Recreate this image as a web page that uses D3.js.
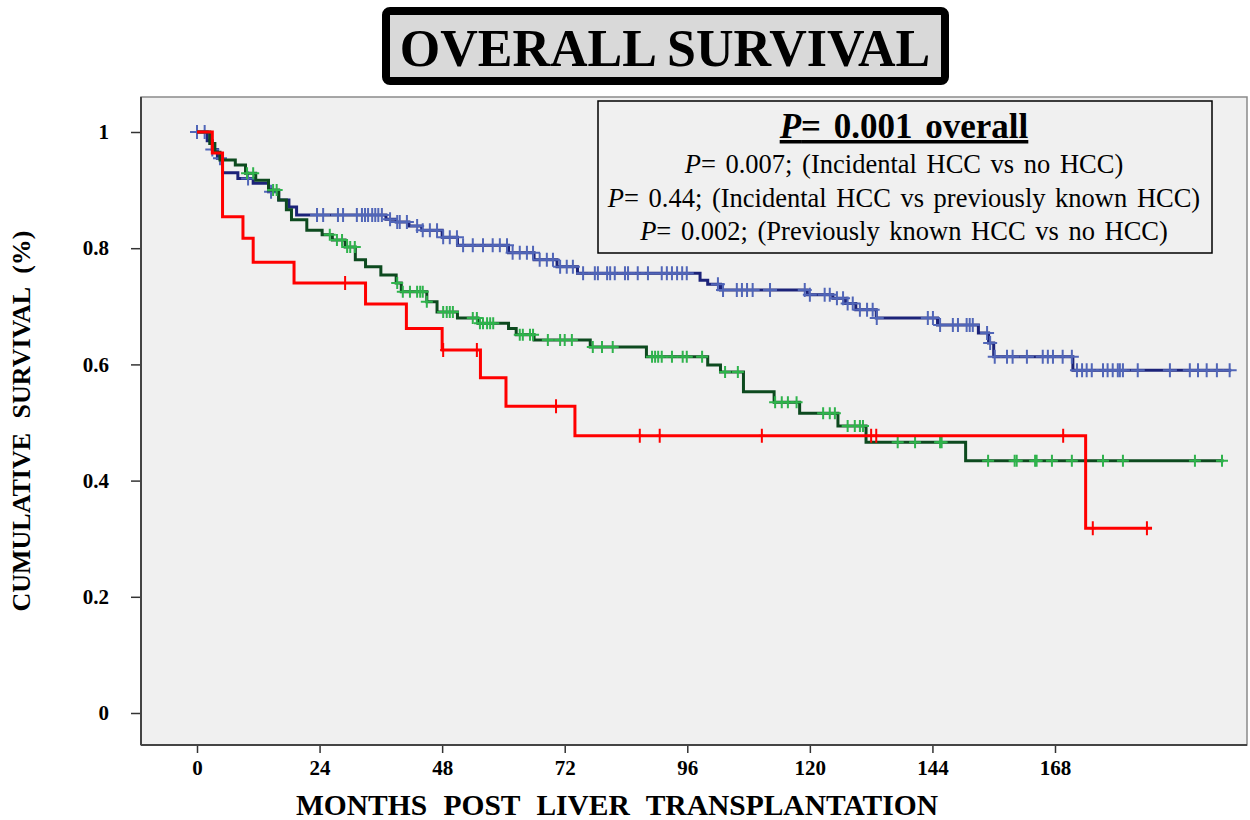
<!DOCTYPE html>
<html>
<head>
<meta charset="utf-8">
<script src="https://cdn.jsdelivr.net/npm/d3@7"></script>
<style>
  body { margin: 0; background: #fff; }
  text { font-family: "Liberation Serif", "Times New Roman", serif; }
</style>
</head>
<body>
<svg id="chart" width="1250" height="820"></svg>
<script>
// DATA
// steps: [months, cumulative survival]
var noHccSteps = [[0,1],[2,0.985],[3,0.97],[4,0.955],[5,0.93],[8,0.92],[11,0.912],[14,0.897],[16,0.883],[18,0.871],[19.5,0.857],[37,0.85],[39,0.845],[41.5,0.838],[44,0.831],[48,0.819],[51,0.805],[61,0.792],[66,0.78],[70.5,0.768],[74.5,0.757],[98.5,0.745],[100,0.738],[102.5,0.728],[119.5,0.72],[124.5,0.714],[127,0.705],[129,0.694],[133,0.68],[145,0.668],[153,0.654],[155,0.637],[156,0.613],[171.5,0.59],[202.5,0.59]];
var incidentalSteps = [[0,1],[2.5,0.98],[3.5,0.965],[4.5,0.952],[7.5,0.943],[9.5,0.929],[11.5,0.917],[14,0.9],[16,0.883],[17.5,0.866],[18.5,0.849],[21.5,0.831],[24.5,0.823],[26.5,0.814],[29,0.802],[31,0.78],[33,0.768],[36,0.754],[39,0.74],[40,0.725],[45,0.708],[47,0.69],[51,0.68],[55,0.671],[61,0.662],[62.5,0.651],[66,0.642],[77,0.63],[88,0.613],[100,0.599],[102.5,0.587],[107,0.553],[113,0.535],[118,0.516],[125.5,0.494],[131,0.466],[150.5,0.434],[201,0.434]];
var knownSteps = [[0,1],[3,0.964],[5,0.854],[9,0.817],[11,0.776],[19,0.74],[33,0.704],[41,0.662],[48,0.625],[55.5,0.577],[60.5,0.528],[74,0.477],[174,0.318],[187,0.318]];

// censored times (months)
var noHccCensor = [0,1.5,3,4.5,10,14.5,23.5,24.7,27.6,28.6,31.3,32.3,32.9,33.5,34.3,34.9,35.5,36.2,37.8,39.2,39.7,41.1,43.1,44.2,45.6,47.0,48.2,49.5,50.9,52.1,54.0,56.0,57.9,59.3,60.7,61.8,63.2,64.6,65.8,67.1,68.5,69.7,71.1,72.4,73.6,75.6,77.9,78.5,80.3,80.9,81.8,83.8,84.4,86.3,88.3,91.0,92.0,93.0,94.0,95.0,95.9,102.0,103.0,105.7,106.7,107.7,108.8,112.2,119.0,120.0,122.9,123.9,125.3,126.5,127.4,128.4,129.8,131.2,132.3,133.1,143.1,144.1,145.5,148.0,149.0,150.7,151.3,151.9,154.7,155.3,156.2,158.6,159.7,162.5,165.6,166.6,167.6,169.5,171.3,172.3,173.3,174.2,175.2,177.4,178.3,179.3,180.3,180.7,181.3,184.2,190.5,194.4,196.0,197.7,199.7,202.2];
var incidentalCensor = [9.8,11,14.9,15.6,26.0,27.4,28.4,29.4,30.0,30.9,39.2,40.3,41.7,43.1,43.7,44.2,45.0,48.2,48.9,49.5,50.1,54.0,54.8,55.4,56.0,56.8,57.4,58.0,63.2,63.8,65.2,65.8,68.7,71.1,72.0,73.4,77.5,79.3,81.4,89.1,89.7,90.3,91.0,93.0,95.1,95.9,98.9,103.4,105.9,113.2,114.5,115.7,117.4,122.6,123.9,124.9,127.4,128.8,129.8,130.4,137.2,140.6,145.5,145.8,154.9,160.1,160.5,164.1,164.4,167.4,171.3,177.4,181.3,195.4,200.7];
var knownCensor = [29,48.2,54.8,70.3,86.7,90.6,110.6,132,133,169.6,175.4,186];

var xTicks = [0, 24, 48, 72, 96, 120, 144, 168];
var yTicks = [0, 0.2, 0.4, 0.6, 0.8, 1];

var titleText = "OVERALL SURVIVAL";
var pLines = [
  ["0.007", "(Incidental HCC vs no HCC)"],
  ["0.44", "(Incidental HCC vs previously known HCC)"],
  ["0.002", "(Previously known HCC vs no HCC)"]
];

// LAYOUT
var frame = {left: 141, right: 1247, top: 97, bottom: 745};
var svg = d3.select("#chart");

var x = d3.scaleLinear().domain([0, 168]).range([197, 1055]);
var y = d3.scaleLinear().domain([0, 1]).range([713, 132]);

// plot background + frame
svg.append("rect")
  .attr("x", frame.left).attr("y", frame.top)
  .attr("width", frame.right - frame.left).attr("height", frame.bottom - frame.top)
  .attr("fill", "#f0f0f0")
  .attr("stroke", "#8a8a8a").attr("stroke-width", 1.5);

// TITLE
svg.append("rect")
  .attr("x", 386).attr("y", 11).attr("width", 559).attr("height", 70)
  .attr("rx", 4)
  .attr("fill", "#d9d9d9").attr("stroke", "#000").attr("stroke-width", 8);
svg.append("text")
  .attr("x", 665).attr("y", 66)
  .attr("text-anchor", "middle")
  .attr("font-size", "52px").attr("font-weight", "bold")
  .text(titleText);

// AXES
var xAxis = d3.axisBottom(x).tickValues(xTicks).tickSize(8).tickPadding(7).tickSizeOuter(0);
var yAxis = d3.axisLeft(y).tickValues(yTicks).tickSize(10).tickPadding(22).tickSizeOuter(0)
  .tickFormat(function (d) { return d === 0 || d === 1 ? d : d3.format(".1f")(d); });

var gx = svg.append("g")
  .attr("transform", "translate(0," + frame.bottom + ")")
  .call(xAxis);
var gy = svg.append("g")
  .attr("transform", "translate(" + frame.left + ",0)")
  .call(yAxis);
[gx, gy].forEach(function (g) {
  g.attr("font-size", null).attr("font-family", null);
  g.select(".domain").remove();
  g.selectAll(".tick line").attr("stroke", "#333").attr("stroke-width", 1.5);
  g.selectAll(".tick text")
    .style("font-size", "21px").style("font-weight", "bold").attr("fill", "#000");
});

// left and bottom frame lines (darker)
svg.append("line")
  .attr("x1", frame.left).attr("x2", frame.left)
  .attr("y1", frame.top).attr("y2", frame.bottom)
  .attr("stroke", "#444").attr("stroke-width", 2);
svg.append("line")
  .attr("x1", frame.left).attr("x2", frame.right)
  .attr("y1", frame.bottom).attr("y2", frame.bottom)
  .attr("stroke", "#444").attr("stroke-width", 2);

// axis labels
svg.append("text")
  .attr("x", 617).attr("y", 815)
  .attr("text-anchor", "middle")
  .attr("font-size", "29.5px").attr("font-weight", "bold")
  .attr("word-spacing", "9px")
  .text("MONTHS POST LIVER TRANSPLANTATION");
svg.append("text")
  .attr("transform", "translate(30,421) rotate(-90)")
  .attr("text-anchor", "middle")
  .attr("font-size", "26px").attr("font-weight", "bold")
  .attr("word-spacing", "8px")
  .text("CUMULATIVE SURVIVAL (%)");

// CURVES
var line = d3.line()
  .x(function (d) { return x(d[0]); })
  .y(function (d) { return y(d[1]); })
  .curve(d3.curveStepAfter);

function survAt(steps, t) {
  var v = steps[0][1];
  steps.forEach(function (s) { if (s[0] <= t) v = s[1]; });
  return v;
}

function drawGroup(steps, censor, lineColor, markColor, width, hw, hh) {
  svg.append("path")
    .datum(steps)
    .attr("d", line)
    .attr("fill", "none")
    .attr("stroke", lineColor)
    .attr("stroke-width", width);
  svg.append("g").selectAll("path")
    .data(censor)
    .enter()
    .append("path")
    .attr("d", function (t) {
      var cx = x(t), cy = y(survAt(steps, t));
      return "M" + (cx - hw) + "," + cy + "H" + (cx + hw) +
             "M" + cx + "," + (cy - hh) + "V" + (cy + hh);
    })
    .attr("fill", "none")
    .attr("stroke", markColor)
    .attr("stroke-width", 2);
}

drawGroup(noHccSteps, noHccCensor, "#1c2379", "#5166b8", 3, 7, 7);
drawGroup(incidentalSteps, incidentalCensor, "#0d4a1f", "#2fb34c", 3, 6, 6);
drawGroup(knownSteps, knownCensor, "#ff0000", "#ff0000", 3, 3, 7);

// P-VALUE BOX
svg.append("rect")
  .attr("x", 598).attr("y", 101).attr("width", 614).attr("height", 152)
  .attr("fill", "#f0f0f0").attr("stroke", "#000").attr("stroke-width", 1.5);

var head = svg.append("text")
  .attr("x", 904).attr("y", 138)
  .attr("text-anchor", "middle")
  .attr("font-size", "35px").attr("font-weight", "bold")
  .attr("word-spacing", "4px")
  .attr("text-decoration", "underline");
head.append("tspan").attr("font-style", "italic").text("P");
head.append("tspan").text("= 0.001 overall");

pLines.forEach(function (p, i) {
  var t = svg.append("text")
    .attr("x", 904).attr("y", 173 + i * 33.5)
    .attr("text-anchor", "middle")
    .attr("font-size", "26.5px")
    .attr("word-spacing", "3px");
  t.append("tspan").attr("font-style", "italic").text("P");
  t.append("tspan").text("= " + p[0] + "; " + p[1]);
});
</script>
</body>
</html>
